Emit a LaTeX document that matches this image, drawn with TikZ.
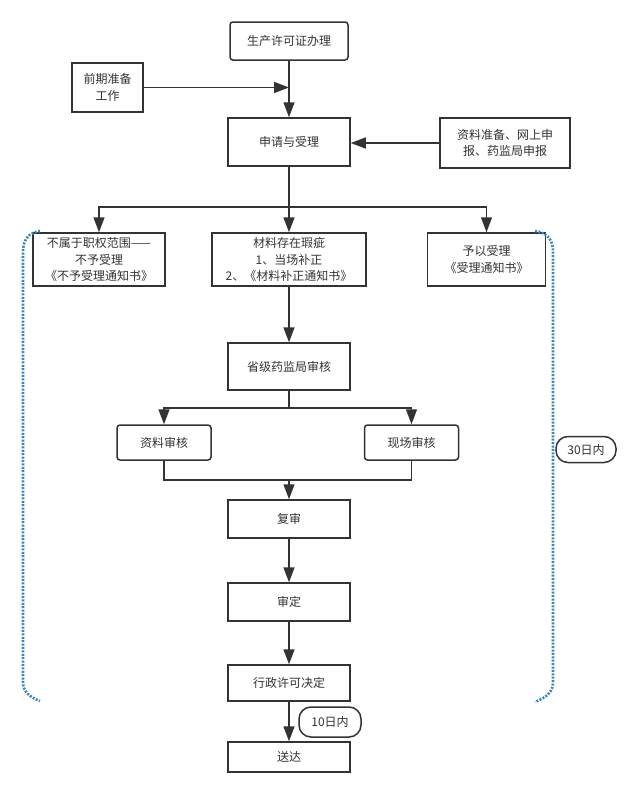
\documentclass[tikz,border=0pt]{standalone}
\usepackage{fontspec}
\setmainfont{Noto Sans CJK SC}
\usetikzlibrary{arrows.meta}
\definecolor{ink}{HTML}{333333}
\definecolor{dotblue}{RGB}{60,135,185}
\begin{document}
\begin{tikzpicture}[x=1pt,y=-1pt,
  box/.style={draw=ink, line width=1.5pt, text=ink, align=center, inner sep=0pt, fill=white,
    font=\fontsize{12}{16.5}\selectfont},
  rbox/.style={box, rounded corners=3pt},
  pill/.style={box, rounded corners=12pt},
  arr/.style={draw=ink, line width=1.5pt, -{Triangle[length=15pt,width=11pt]}},
  ln/.style={draw=ink, line width=1.5pt},
  bracket/.style={draw=dotblue, line width=2.6pt, dash pattern=on 2pt off 1.4pt}]
\fill[white] (0,0) rectangle (640,795);
\useasboundingbox (0,0) rectangle (640,795);

% nodes
\node[rbox, minimum width=118pt, minimum height=38pt] (top) at (289,41) {生产许可证办理};
\node[box, minimum width=71pt, minimum height=49pt] (pre) at (107.5,87.5) {前期准备\\工作};
\node[box, minimum width=122pt, minimum height=48pt] (apply) at (289,142) {申请与受理};
\node[box, minimum width=130pt, minimum height=50pt] (mat) at (505,143) {资料准备、网上申\\报、药监局申报};
\node[box, minimum width=132pt, minimum height=53pt] (left) at (99,259.5) {不属于职权范围——\\不予受理\\《不予受理通知书》};
\node[box, minimum width=154pt, minimum height=53pt] (mid) at (289,259.5) {材料存在瑕疵\\1、当场补正\\2、《材料补正通知书》};
\node[box, minimum width=118pt, minimum height=53pt] (right) at (486.5,259.5) {予以受理\\《受理通知书》};
\node[box, minimum width=122pt, minimum height=47pt] (prov) at (289,366.5) {省级药监局审核};
\node[rbox, minimum width=94pt, minimum height=35pt] (doc) at (164,442.5) {资料审核};
\node[rbox, minimum width=94pt, minimum height=35pt] (site) at (411.5,442.5) {现场审核};
\node[box, minimum width=122pt, minimum height=38pt] (re) at (289,519) {复审};
\node[box, minimum width=122pt, minimum height=38pt] (appr) at (289,602) {审定};
\node[box, minimum width=122pt, minimum height=36pt] (dec) at (289,683) {行政许可决定};
\node[box, minimum width=122pt, minimum height=30pt] (del) at (289,757) {送达};
\node[pill, minimum width=62pt, minimum height=30pt] (d10) at (330,722) {10日内};

% brackets
\draw[bracket] (40,231) .. controls (28,233) and (23,240) .. (23,252) -- (23,682) .. controls (23,692) and (30,697) .. (40,701);
\draw[bracket] (535,231) .. controls (548,233) and (553,240) .. (553,252) -- (553,682) .. controls (553,692) and (547,697) .. (535,702);
\node[pill, minimum width=60pt, minimum height=26pt] (d30) at (586,449.5) {30日内};

% connectors
\coordinate (j1) at (289,87.5);
\draw[arr] (top.south) -- (apply.north);
\draw[arr] (pre.east) -- (j1);
\draw[arr] (mat.west) -- (apply.east |- mat.west);

\coordinate (b1) at (289,207);
\draw[ln] (apply.south) -- (b1);
\draw[arr] (b1) -| (left.north);
\draw[arr] (b1) -| (right.north);
\draw[arr] (b1) -- (mid.north);

\draw[arr] (mid.south) -- (prov.north);
\coordinate (b2) at (289,408);
\draw[ln] (prov.south) -- (b2);
\draw[arr] (b2) -| (doc.north);
\draw[arr] (b2) -| (site.north);
\coordinate (m1) at (289,480);
\draw[ln] (doc.south) |- (m1);
\draw[ln] (site.south) |- (m1);
\draw[arr] (m1) -- (re.north);
\draw[arr] (re.south) -- (appr.north);
\draw[arr] (appr.south) -- (dec.north);
\draw[arr] (dec.south) -- (del.north);
\end{tikzpicture}
\end{document}
